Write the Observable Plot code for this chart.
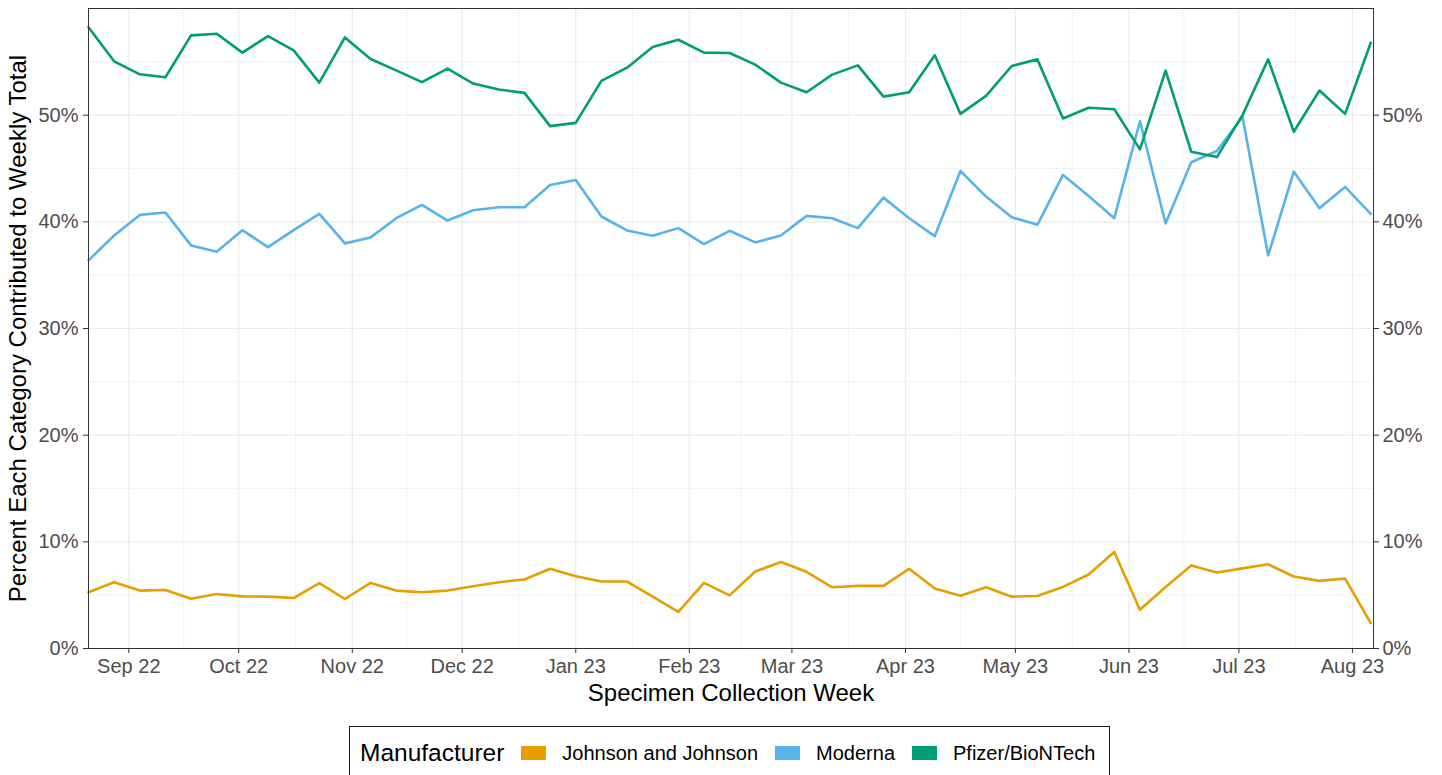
<!DOCTYPE html>
<html>
<head>
<meta charset="utf-8">
<script src="https://cdn.jsdelivr.net/npm/d3@7"></script>
<script src="https://cdn.jsdelivr.net/npm/@observablehq/plot@0.6"></script>
<style>
  body { margin: 0; background: #fff; font-family: "Liberation Sans", Arial, sans-serif; }
  #wrap { position: relative; width: 1442px; height: 775px; overflow: hidden; background: #fff; }
  #chart { position: absolute; left: 0; top: 0; }
  #legend {
    position: absolute; left: 349px; top: 726px; width: 761px; height: 90px;
    border: 1.3px solid #1a1a1a; box-sizing: border-box; background: #fff;
  }
  #legend .row { display: flex; align-items: center; height: 52px; padding-left: 10px; white-space: nowrap; }
  #legend .row > span { flex: 0 0 auto; }
  #legend .title { font-size: 24.5px; color: #000; margin-right: 17px; }
  #legend .sw { width: 25px; height: 14px; margin-right: 16px; }
  #legend .lab { font-size: 20px; color: #000; margin-right: 17px; }
</style>
</head>
<body>
<div id="wrap">
  <div id="chart"></div>
  <div id="legend"><div class="row" id="legrow"></div></div>
</div>
<script>
// ---- data (percent of weekly total) ----
const manufacturers = ["Johnson and Johnson", "Moderna", "Pfizer/BioNTech"];
const colors = ["#E69F00", "#56B4E9", "#009E73"];

// weekly specimen collection weeks: 2022-08-21 .. 2023-08-06
const weeks = d3.utcWeek.range(new Date(Date.UTC(2022, 7, 21)), new Date(Date.UTC(2023, 7, 7)));

const johnson = [5.27, 6.21, 5.43, 5.49, 4.67, 5.11, 4.89, 4.86, 4.73, 6.12,
                 4.64, 6.15, 5.43, 5.27, 5.43, 5.84, 6.21, 6.47, 7.48, 6.78,
                 6.28, 6.28, 4.86, 3.44, 6.15, 4.98, 7.22, 8.11, 7.19, 5.74,
                 5.87, 5.87, 7.48, 5.62, 4.95, 5.74, 4.86, 4.92, 5.77, 6.94,
                 9.05, 3.63, 5.77, 7.79, 7.13, 7.51, 7.89, 6.75, 6.34, 6.56, 2.37];
const moderna = [36.39, 38.72, 40.65, 40.87, 37.79, 37.2, 39.22, 37.63, 39.22, 40.75,
                 37.98, 38.54, 40.34, 41.59, 40.12, 41.09, 41.37, 41.37, 43.46, 43.93,
                 40.5, 39.19, 38.69, 39.41, 37.91, 39.16, 38.07, 38.72, 40.56, 40.34,
                 39.41, 42.27, 40.34, 38.66, 44.77, 42.37, 40.44, 39.72, 44.4, 42.43,
                 40.34, 49.44, 39.84, 45.58, 46.64, 49.84, 36.85, 44.7, 41.28, 43.27, 40.75];
const pfizer = [58.25, 55.05, 53.83, 53.55, 57.48, 57.63, 55.86, 57.41, 56.07, 53.05,
                57.29, 55.26, 54.2, 53.1, 54.36, 52.96, 52.4, 52.09, 48.97, 49.28,
                53.21, 54.45, 56.39, 57.07, 55.86, 55.83, 54.74, 53.05, 52.15, 53.8,
                54.67, 51.74, 52.15, 55.61, 50.12, 51.81, 54.61, 55.23, 49.69, 50.69,
                50.56, 46.79, 54.17, 46.57, 46.07, 50.0, 55.23, 48.44, 52.31, 50.12, 56.79];

const yTicks = [0, 0.1, 0.2, 0.3, 0.4, 0.5];
const yMinor = [0.05, 0.15, 0.25, 0.35, 0.45, 0.55];
const xLabel = "Specimen Collection Week";
const yLabel = "Percent Each Category Contributed to Weekly Total";
const legendTitle = "Manufacturer";

// ---- build table ----
const series = [johnson, moderna, pfizer];
const rows = [];
manufacturers.forEach((m, k) => {
  series[k].forEach((v, i) => rows.push({week: weeks[i], value: v / 100, manufacturer: m}));
});

const xStart = weeks[0];
const xEnd = new Date(+weeks[weeks.length - 1] + 0.75 * 864e5);
const months = d3.utcMonth.range(new Date(Date.UTC(2022, 7, 1)), new Date(Date.UTC(2023, 9, 1)));
const xTicks = months.filter(d => d >= xStart && d <= xEnd);
const xMinor = d3.pairs(months).map(([a, b]) => new Date((+a + +b) / 2)).filter(d => d >= xStart && d <= xEnd);

const grid = "#ebebeb";
const chart = Plot.plot({
  width: 1442,
  height: 720,
  marginLeft: 88,
  marginRight: 69,
  marginTop: 8,
  marginBottom: 72,
  style: {fontFamily: '"Liberation Sans", Arial, sans-serif', fontSize: "20px", background: "white", overflow: "visible"},
  x: {type: "utc", domain: [xStart, xEnd]},
  y: {domain: [0, 0.6]},
  color: {domain: manufacturers, range: colors},
  marks: [
    Plot.gridX({ticks: xMinor, stroke: grid, strokeOpacity: 1, strokeWidth: 0.6}),
    Plot.gridY({ticks: yMinor, stroke: grid, strokeOpacity: 1, strokeWidth: 0.6}),
    Plot.gridX({ticks: xTicks, stroke: grid, strokeOpacity: 1, strokeWidth: 1.2}),
    Plot.gridY({ticks: yTicks, stroke: grid, strokeOpacity: 1, strokeWidth: 1.2}),
    Plot.lineY(rows, {x: "week", y: "value", z: "manufacturer", stroke: "manufacturer", strokeWidth: 2.6, strokeLinejoin: "round"}),
    Plot.frame({stroke: "#333", strokeWidth: 1}),
    Plot.axisX({ticks: xTicks, tickFormat: d3.utcFormat("%b %y"), tickSize: 5, tickPadding: 5, color: "#4d4d4d", stroke: "#333", label: null}),
    Plot.axisY({ticks: yTicks, anchor: "left", tickFormat: d3.format(".0%"), tickSize: 5, tickPadding: 5, color: "#4d4d4d", stroke: "#333", label: null}),
    Plot.axisY({ticks: yTicks, anchor: "right", tickFormat: d3.format(".0%"), tickSize: 5, tickPadding: 4, color: "#4d4d4d", stroke: "#333", label: null}),
    Plot.text([xLabel], {frameAnchor: "bottom", textAnchor: "middle", dy: 52, fontSize: 24, fill: "black"}),
    Plot.text([yLabel], {frameAnchor: "left", textAnchor: "middle", dx: -70, rotate: -90, fontSize: 24, fill: "black"})
  ]
});
document.getElementById("chart").appendChild(chart);

// ---- legend ----
const row = document.getElementById("legrow");
const t = document.createElement("span");
t.className = "title"; t.textContent = legendTitle; row.appendChild(t);
manufacturers.forEach((m, k) => {
  const s = document.createElement("span");
  s.className = "sw"; s.style.background = colors[k]; row.appendChild(s);
  const l = document.createElement("span");
  l.className = "lab"; l.textContent = m; row.appendChild(l);
});
</script>
</body>
</html>
